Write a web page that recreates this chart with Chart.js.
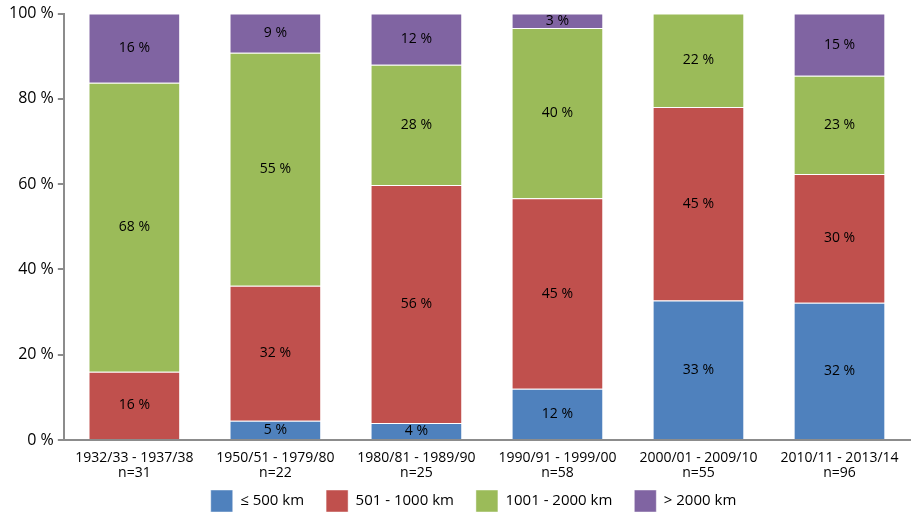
<!DOCTYPE html>
<html>
<head>
<meta charset="utf-8">
<script src="https://cdn.jsdelivr.net/npm/chart.js@4.4.1/dist/chart.umd.min.js"></script>
<style>
  html, body { margin: 0; padding: 0; background: #fff; }
  #wrap { width: 911px; height: 516px; }
</style>
</head>
<body>
<div id="wrap"><canvas id="distChart"></canvas></div>
<script>
const periods = [
  ['1932/33 - 1937/38', 'n=31'],
  ['1950/51 - 1979/80', 'n=22'],
  ['1980/81 - 1989/90', 'n=25'],
  ['1990/91 - 1999/00', 'n=58'],
  ['2000/01 - 2009/10', 'n=55'],
  ['2010/11 - 2013/14', 'n=96']
];
const upTo500 = [0, 4.5, 4, 12, 32.7, 32.2];
const from501 = [16, 31.7, 55.8, 44.7, 45.4, 30.2];
const from1001 = [67.8, 54.6, 28.2, 39.9, 21.9, 23];
const over2000 = [16.2, 9.2, 12, 3.4, 0, 14.6];
const yTicks = [0, 20, 40, 60, 80, 100];

const fontFam = '"Open Sans", "Noto Sans", sans-serif';

// draws the percentage inside each segment
const segmentLabels = {
  id: 'segmentLabels',
  afterLayout(chart) {
    // x scale was squeezed in afterFit, give the labels room again so they aren't clipped
    chart.scales.x.bottom += 30;
    // legend sits a bit right of centre in the original
    chart.legend.left += 16;
    chart.legend.right += 16;
  },
  afterDatasetsDraw(chart) {
    const ctx = chart.ctx;
    ctx.save();
    ctx.font = '14px ' + fontFam;
    ctx.fillStyle = '#000';
    ctx.textAlign = 'center';
    ctx.textBaseline = 'middle';
    chart.data.datasets.forEach((ds, i) => {
      const meta = chart.getDatasetMeta(i);
      meta.data.forEach((bar, j) => {
        const v = ds.data[j];
        if (!v) return;
        ctx.fillText(Math.round(v) + ' %', bar.x, (bar.y + bar.base) / 2);
      });
    });
    ctx.restore();
  }
};

function makeSet(label, data, color) {
  return {
    label: label,
    data: data,
    backgroundColor: color,
    borderColor: 'rgba(255,255,255,0.45)',
    borderWidth: 1,
    categoryPercentage: 1,
    barPercentage: 0.65
  };
}

new Chart(document.getElementById('distChart'), {
  type: 'bar',
  data: {
    labels: periods,
    datasets: [
      makeSet('≤ 500 km', upTo500, '#4F81BD'),
      makeSet('501 - 1000 km', from501, '#C0504D'),
      makeSet('1001 - 2000 km', from1001, '#9BBB59'),
      makeSet('> 2000 km', over2000, '#8064A2')
    ]
  },
  options: {
    responsive: true,
    maintainAspectRatio: false,
    animation: false,
    layout: { padding: { top: 9, right: 1, left: 5, bottom: -6 } },
    plugins: {
      legend: {
        position: 'bottom',
        labels: {
          boxWidth: 22,
          boxHeight: 22,
          padding: 22,
          color: '#000',
          font: { family: fontFam, size: 15 }
        }
      },
      tooltip: { enabled: false }
    },
    scales: {
      x: {
        stacked: true,
        grid: { display: false, drawTicks: false },
        border: { color: '#8c8c8c', width: 2 },
        ticks: {
          color: '#000',
          padding: 10,
          font: { family: fontFam, size: 14, lineHeight: 1.1 }
        },
        afterFit(scale) { scale.height = 28; }
      },
      y: {
        stacked: true,
        min: 0,
        max: 100,
        afterBuildTicks(axis) { axis.ticks = yTicks.map(v => ({ value: v })); },
        grid: { drawOnChartArea: false, color: '#8c8c8c', tickLength: 6, lineWidth: 2 },
        border: { color: '#8c8c8c', width: 2 },
        ticks: {
          color: '#000',
          padding: 4,
          font: { family: fontFam, size: 16 },
          callback: v => v + ' %'
        }
      }
    }
  },
  plugins: [segmentLabels]
});
</script>
</body>
</html>
